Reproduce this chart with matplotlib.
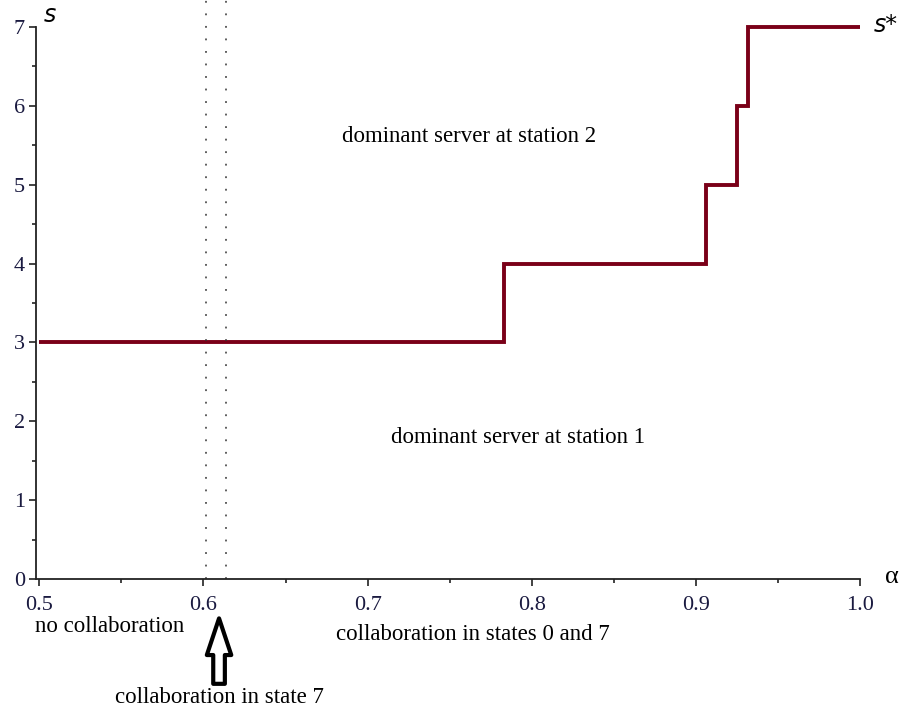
import matplotlib.pyplot as plt
from matplotlib.ticker import MultipleLocator

# threshold s* as a step function of alpha
alpha_edges = [0.5, 0.783, 0.906, 0.925, 0.932, 1.0]
s_star = [3, 4, 5, 6, 7]

# dotted boundaries of the collaboration regions
boundaries = [0.6016, 0.6137]

x_ticks = [0.5, 0.6, 0.7, 0.8, 0.9, 1.0]
x_tick_labels = ["0.5", "0.6", "0.7", "0.8", "0.9", "1.0"]
y_ticks = [0, 1, 2, 3, 4, 5, 6, 7]

plt.rcParams['font.family'] = ['Liberation Serif', 'DejaVu Serif']

fig = plt.figure(figsize=(9.03, 7.13), dpi=100)
ax = fig.add_axes([0.0399, 0.188, 0.9125, 0.7741])

ax.stairs(s_star, alpha_edges, baseline=None, color='#7a0018', lw=2.8, clip_on=False)

for b in boundaries:
    ax.plot([b, b], [0, 7.4], color='#333333', lw=1.1, ls=(0, (1.2, 7)), clip_on=False)

ax.set_xlim(0.498, 1.0)
ax.set_ylim(0, 7)
for side in ['top', 'right']:
    ax.spines[side].set_visible(False)
for side in ['left', 'bottom']:
    ax.spines[side].set_linewidth(1.3)
    ax.spines[side].set_color('#222222')

ax.set_xticks(x_ticks)
ax.set_xticklabels(x_tick_labels)
ax.set_yticks(y_ticks)
ax.xaxis.set_minor_locator(MultipleLocator(0.05))
ax.yaxis.set_minor_locator(MultipleLocator(0.5))
ax.tick_params(which='major', length=5, width=1.2, labelsize=16, colors='#222222',
               labelcolor='#1a1a40')
ax.tick_params(axis='x', which='major', pad=7)
ax.tick_params(axis='y', which='major', pad=3)
ax.tick_params(which='minor', length=3, width=1.2, colors='#222222')

ax.text(0.5025, 7.15, "s", fontsize=17, style='italic', ha='left', va='center',
        family=['DejaVu Sans'], clip_on=False)
ax.text(1.0085, 7.02, "s*", fontsize=17, style='italic', ha='left', va='center',
        family=['DejaVu Sans'], clip_on=False)
ax.text(1.0155, 0.02, "α", fontsize=19, ha='left', va='center', clip_on=False)

fs = 16.5
ax.text(0.7616, 5.615, "dominant server at station 2", fontsize=fs, ha='center', va='center')
ax.text(0.7914, 1.80, "dominant server at station 1", fontsize=fs, ha='center', va='center')
ax.text(0.5426, -0.6, "no collaboration", fontsize=fs, ha='center', va='center', clip_on=False)
ax.text(0.764, -0.7, "collaboration in states 0 and 7", fontsize=fs, ha='center', va='center',
        clip_on=False)
ax.text(0.6095, -1.5, "collaboration in state 7", fontsize=fs, ha='center', va='center',
        clip_on=False)

ax.annotate("", xy=(0.6095, -0.5), xytext=(0.6095, -1.33), xycoords='data',
            annotation_clip=False,
            arrowprops=dict(arrowstyle='simple,head_length=1.2,head_width=0.8,tail_width=0.38',
                            fc='white', ec='black', lw=3, mutation_scale=22,
                            shrinkA=0, shrinkB=0))

fig.savefig("out.png", dpi=100)
